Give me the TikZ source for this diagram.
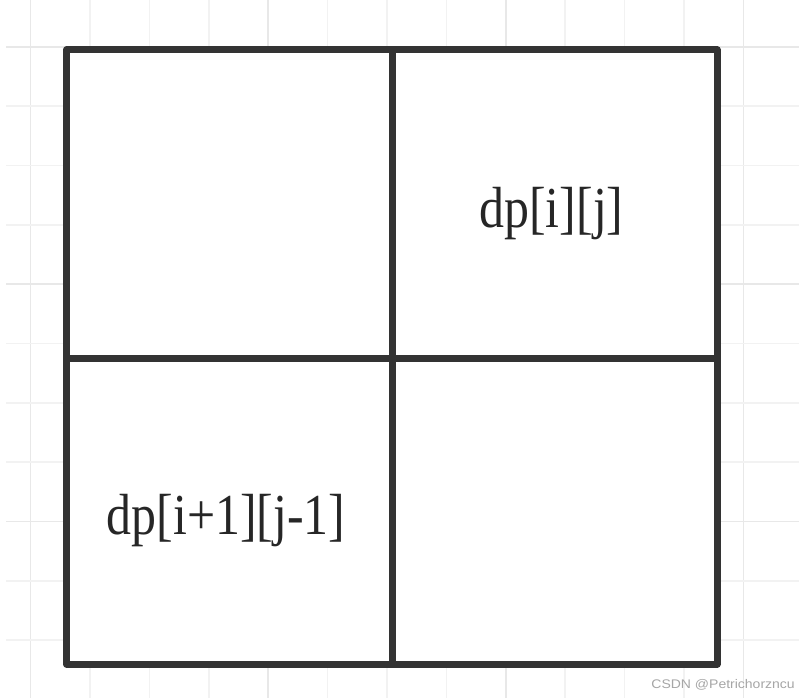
\documentclass[tikz,border=0pt]{standalone}
\usepackage{fontspec}
\setmainfont{Liberation Serif}
\newfontfamily\wmfont{Liberation Sans}
\begin{document}
\begin{tikzpicture}[x=1pt,y=-1pt,
  minorgrid/.style={draw=black!5, line width=1.6pt},
  majorgrid/.style={draw=black!9, line width=1.6pt},
  frame/.style={draw=black!80, line width=7pt, line join=round, line cap=round},
  cell/.style={inner sep=0pt, font=\fontsize{58}{66}\selectfont, xscale=0.86, text=black!85},
  wmark/.style={inner sep=0pt, font=\wmfont\fontsize{12.5}{13}\selectfont, xscale=1.12, text=black!35, anchor=east}]
  \useasboundingbox (0,0) rectangle (799,698);
  \fill[white] (0,0) rectangle (799,698);
  % grid
  \foreach \i in {0,...,12} {
    \pgfmathsetmacro\xx{30.5+59.4*\i}
    \pgfmathtruncatemacro\m{mod(\i,4)}
    \ifnum\m=0
      \draw[majorgrid] (\xx,0) -- (\xx,698);
    \else
      \draw[minorgrid] (\xx,0) -- (\xx,698);
    \fi
  }
  \foreach \i in {0,...,10} {
    \pgfmathsetmacro\yy{47+59.3*\i}
    \pgfmathtruncatemacro\m{mod(\i,4)}
    \ifnum\m=0
      \draw[majorgrid] (6,\yy) -- (799,\yy);
    \else
      \draw[minorgrid] (6,\yy) -- (799,\yy);
    \fi
  }
  % frame
  \coordinate (tl) at (66.5,50);
  \coordinate (br) at (717,664);
  \coordinate (tm) at (392,50);
  \coordinate (bm) at (392,664);
  \coordinate (lm) at (66.5,358);
  \coordinate (rm) at (717,358);
  \fill[white] (tl) rectangle (br);
  \draw[frame] (tl) rectangle (br);
  \draw[frame] (tm) -- (bm);
  \draw[frame] (lm) -- (rm);
  % texts
  \node[cell] (a) at (551.5,213.5) {dp[i][j]};
  \node[cell] (b) at (226,521) {dp[i+1][j-1]};
  \node[wmark] (w) at (795,685) {CSDN @Petrichorzncu};
\end{tikzpicture}
\end{document}
